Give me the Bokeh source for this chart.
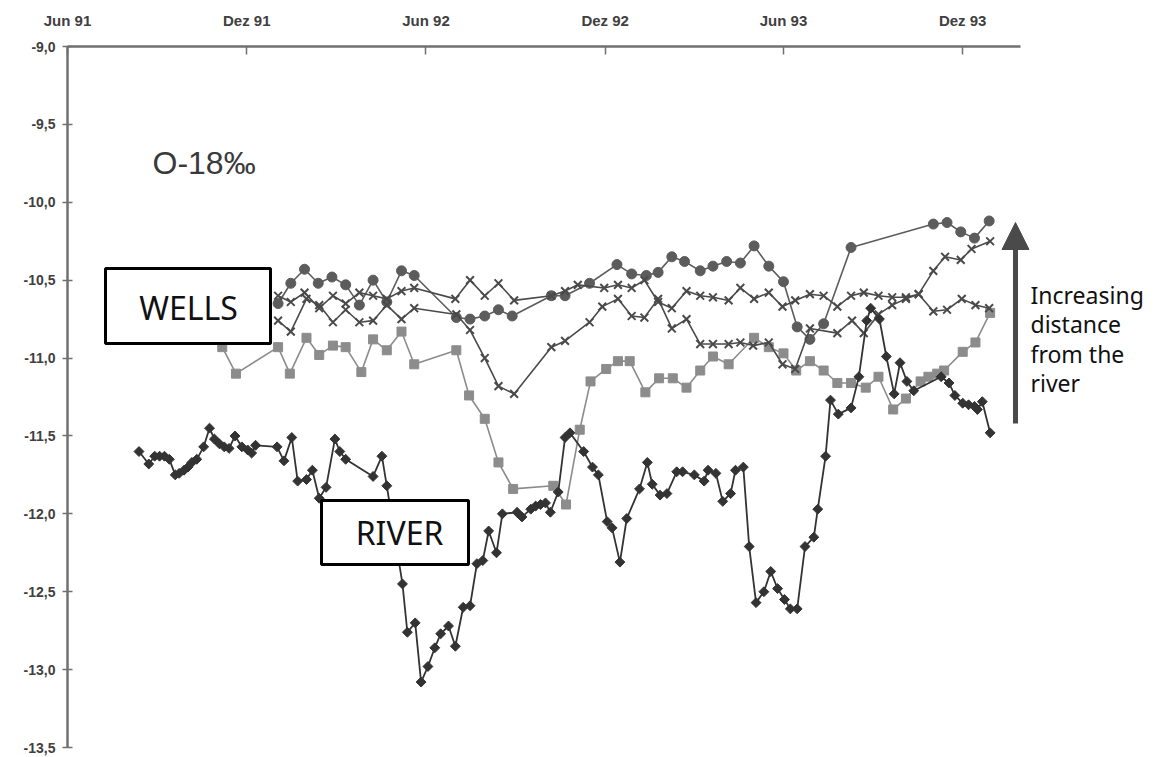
import math
import pandas as pd
from bokeh.plotting import figure
from bokeh.models import (Range1d, FixedTicker, CustomJSTickFormatter, DatetimeAxis,
                          LinearAxis, BoxAnnotation, Label, Arrow, NormalHead,
                          ColumnDataSource)
from bokeh.embed import file_html
from bokeh.resources import INLINE

# ---------------- data ----------------
TICK_DATES = ["1991-06-01", "1991-12-01", "1992-06-01", "1992-12-01", "1993-06-01", "1993-12-01"]
TICK_LABELS = ["Jun 91", "Dez 91", "Jun 92", "Dez 92", "Jun 93", "Dez 93"]
Y_TICKS = [-9.0, -9.5, -10.0, -10.5, -11.0, -11.5, -12.0, -12.5, -13.0, -13.5]

RIVER_DATES = [
    "1991-08-13", "1991-08-23", "1991-08-29", "1991-09-03", "1991-09-08", "1991-09-13",
    "1991-09-19", "1991-09-23", "1991-09-28", "1991-10-02", "1991-10-06", "1991-10-11",
    "1991-10-18", "1991-10-24", "1991-10-29", "1991-11-03", "1991-11-08", "1991-11-13",
    "1991-11-19", "1991-11-26", "1991-12-02", "1991-12-06", "1991-12-10", "1992-01-01",
    "1992-01-08", "1992-01-16", "1992-01-22", "1992-01-31", "1992-02-06", "1992-02-13",
    "1992-02-20", "1992-02-29", "1992-03-05", "1992-03-11", "1992-04-08", "1992-04-17",
    "1992-04-22", "1992-05-08", "1992-05-13", "1992-05-21", "1992-05-27", "1992-06-03",
    "1992-06-10", "1992-06-16", "1992-06-24", "1992-07-01", "1992-07-09", "1992-07-16",
    "1992-07-23", "1992-07-29", "1992-08-04", "1992-08-12", "1992-08-18", "1992-09-02",
    "1992-09-07", "1992-09-16", "1992-09-21", "1992-09-26", "1992-10-01", "1992-10-06",
    "1992-10-14", "1992-10-21", "1992-10-26", "1992-11-09", "1992-11-18", "1992-11-24",
    "1992-12-03", "1992-12-08", "1992-12-16", "1992-12-23", "1993-01-05", "1993-01-13",
    "1993-01-18", "1993-01-26", "1993-02-02", "1993-02-12", "1993-02-18", "1993-03-02",
    "1993-03-12", "1993-03-16", "1993-03-24", "1993-03-31", "1993-04-08", "1993-04-13",
    "1993-04-21", "1993-04-27", "1993-05-04", "1993-05-12", "1993-05-19", "1993-05-26",
    "1993-06-02", "1993-06-08", "1993-06-15", "1993-06-23", "1993-07-02", "1993-07-06",
    "1993-07-14", "1993-07-19", "1993-07-27", "1993-08-09", "1993-08-17", "1993-08-25",
    "1993-08-29", "1993-09-07", "1993-09-14", "1993-09-22", "1993-09-28", "1993-10-05",
    "1993-10-12", "1993-11-09", "1993-11-17", "1993-11-23", "1993-12-01", "1993-12-07",
    "1993-12-13", "1993-12-16", "1993-12-21", "1993-12-29"]
RIVER_VALUES = [
    -11.60, -11.68, -11.63, -11.63, -11.63, -11.65,
    -11.75, -11.74, -11.72, -11.70, -11.67, -11.65,
    -11.57, -11.45, -11.52, -11.55, -11.57, -11.58,
    -11.50, -11.57, -11.59, -11.61, -11.56, -11.57,
    -11.66, -11.51, -11.79, -11.78, -11.72, -11.90,
    -11.83, -11.52, -11.60, -11.65, -11.76, -11.63,
    -11.82, -12.45, -12.76, -12.70, -13.08, -12.98,
    -12.86, -12.77, -12.72, -12.85, -12.60, -12.59,
    -12.32, -12.30, -12.11, -12.25, -12.00, -11.99,
    -12.02, -11.97, -11.95, -11.94, -11.93, -11.99,
    -11.86, -11.51, -11.48, -11.60, -11.70, -11.75,
    -12.05, -12.09, -12.31, -12.03, -11.84, -11.67,
    -11.81, -11.88, -11.87, -11.73, -11.73, -11.75,
    -11.79, -11.72, -11.74, -11.92, -11.87, -11.72,
    -11.70, -12.21, -12.57, -12.50, -12.37, -12.48,
    -12.55, -12.61, -12.61, -12.21, -12.15, -11.97,
    -11.63, -11.27, -11.36, -11.32, -11.12, -10.76,
    -10.68, -10.75, -10.99, -11.23, -11.03, -11.15,
    -11.21, -11.12, -11.16, -11.24, -11.29, -11.30,
    -11.31, -11.33, -11.28, -11.48]

SQUARE_DATES = [
    "1991-11-06", "1991-11-20", "1992-01-02", "1992-01-14", "1992-01-31", "1992-02-13",
    "1992-02-27", "1992-03-11", "1992-03-27", "1992-04-08", "1992-04-22", "1992-05-07",
    "1992-05-20", "1992-07-02", "1992-07-15", "1992-07-31", "1992-08-14", "1992-08-29",
    "1992-10-09", "1992-10-22", "1992-11-05", "1992-11-16", "1992-12-02", "1992-12-14",
    "1992-12-26", "1993-01-11", "1993-01-25", "1993-02-08", "1993-02-22", "1993-03-08",
    "1993-03-21", "1993-04-06", "1993-05-02", "1993-05-17", "1993-06-01", "1993-06-14",
    "1993-06-28", "1993-07-12", "1993-07-26", "1993-08-09", "1993-08-24", "1993-09-06",
    "1993-09-21", "1993-10-04", "1993-10-19", "1993-10-27", "1993-11-05", "1993-11-12",
    "1993-12-01", "1993-12-14", "1993-12-29"]
SQUARE_VALUES = [
    -10.93, -11.10, -10.93, -11.10, -10.87, -10.98,
    -10.92, -10.93, -11.09, -10.88, -10.95, -10.83,
    -11.04, -10.95, -11.24, -11.39, -11.67, -11.84,
    -11.82, -11.94, -11.46, -11.15, -11.07, -11.02,
    -11.02, -11.22, -11.13, -11.13, -11.19, -11.08,
    -10.99, -11.04, -10.87, -10.93, -10.97, -11.08,
    -11.02, -11.08, -11.16, -11.16, -11.19, -11.12,
    -11.33, -11.26, -11.15, -11.12, -11.10, -11.08,
    -10.96, -10.90, -10.71]

CIRCLE_DATES = [
    "1992-01-02", "1992-01-15", "1992-01-29", "1992-02-12", "1992-02-26", "1992-03-11",
    "1992-03-25", "1992-04-08", "1992-04-22", "1992-05-07", "1992-05-20", "1992-07-02",
    "1992-07-16", "1992-07-31", "1992-08-14", "1992-08-28", "1992-10-07", "1992-10-21",
    "1992-11-15", "1992-12-13", "1992-12-28", "1993-01-12", "1993-01-24", "1993-02-07",
    "1993-02-20", "1993-03-08", "1993-03-21", "1993-04-04", "1993-04-18", "1993-05-02",
    "1993-05-17", "1993-06-01", "1993-06-15", "1993-06-28", "1993-07-12", "1993-08-09",
    "1993-11-01", "1993-11-15", "1993-11-29", "1993-12-13", "1993-12-28"]
CIRCLE_VALUES = [
    -10.65, -10.52, -10.43, -10.52, -10.48, -10.53,
    -10.66, -10.50, -10.64, -10.44, -10.47, -10.74,
    -10.75, -10.73, -10.69, -10.73, -10.60, -10.60,
    -10.52, -10.40, -10.46, -10.47, -10.45, -10.35,
    -10.38, -10.44, -10.41, -10.38, -10.39, -10.28,
    -10.41, -10.51, -10.80, -10.88, -10.78, -10.29,
    -10.14, -10.13, -10.19, -10.23, -10.12]

CROSS_A_DATES = [
    "1992-01-02", "1992-01-15", "1992-01-31", "1992-02-13", "1992-02-27", "1992-03-11",
    "1992-03-25", "1992-04-08", "1992-04-22", "1992-05-07", "1992-05-20", "1992-07-02",
    "1992-07-16", "1992-07-31", "1992-08-14", "1992-08-30", "1992-10-07", "1992-10-21",
    "1992-11-15", "1992-11-28", "1992-12-14", "1992-12-28", "1993-01-10", "1993-01-24",
    "1993-02-07", "1993-02-22", "1993-03-08", "1993-03-21", "1993-04-06", "1993-04-18",
    "1993-05-01", "1993-05-17", "1993-05-31", "1993-06-13", "1993-06-28", "1993-07-26",
    "1993-08-10", "1993-08-22", "1993-09-06", "1993-09-20", "1993-10-04", "1993-10-17",
    "1993-11-01", "1993-11-13", "1993-11-29", "1993-12-10", "1993-12-29"]
CROSS_A_VALUES = [
    -10.76, -10.83, -10.62, -10.66, -10.77, -10.69,
    -10.77, -10.76, -10.66, -10.75, -10.68, -10.72,
    -10.82, -11.00, -11.18, -11.23, -10.93, -10.89,
    -10.77, -10.67, -10.62, -10.73, -10.74, -10.62,
    -10.81, -10.75, -10.91, -10.91, -10.91, -10.90,
    -10.92, -10.90, -11.04, -11.07, -10.81, -10.84,
    -10.76, -10.84, -10.72, -10.66, -10.62, -10.59,
    -10.44, -10.35, -10.37, -10.30, -10.25]

CROSS_B_DATES = [
    "1992-01-02", "1992-01-15", "1992-01-29", "1992-02-13", "1992-02-27", "1992-03-11",
    "1992-03-25", "1992-04-08", "1992-04-22", "1992-05-07", "1992-05-20", "1992-07-01",
    "1992-07-16", "1992-07-31", "1992-08-14", "1992-08-30", "1992-10-07", "1992-10-21",
    "1992-11-03", "1992-11-30", "1992-12-14", "1992-12-28", "1993-01-10", "1993-01-24",
    "1993-02-07", "1993-02-22", "1993-03-08", "1993-03-21", "1993-04-06", "1993-04-18",
    "1993-05-02", "1993-05-17", "1993-05-31", "1993-06-13", "1993-06-28", "1993-07-12",
    "1993-07-26", "1993-08-09", "1993-08-22", "1993-09-06", "1993-09-20", "1993-10-04",
    "1993-10-17", "1993-11-01", "1993-11-15", "1993-11-30", "1993-12-14", "1993-12-28"]
CROSS_B_VALUES = [
    -10.60, -10.64, -10.58, -10.68, -10.60, -10.65,
    -10.58, -10.60, -10.62, -10.57, -10.55, -10.62,
    -10.50, -10.60, -10.52, -10.63, -10.60, -10.57,
    -10.53, -10.55, -10.53, -10.55, -10.50, -10.64,
    -10.68, -10.57, -10.60, -10.61, -10.63, -10.55,
    -10.62, -10.58, -10.67, -10.63, -10.59, -10.60,
    -10.67, -10.60, -10.58, -10.60, -10.61, -10.61,
    -10.59, -10.70, -10.69, -10.62, -10.66, -10.68]

# ---------------- layout ----------------
X_START = "1991-06-01"
AXIS_END = "1994-01-29"      # where the top axis line stops


def ms(s):
    return pd.Timestamp(s).value / 1e6


W, H = 1167, 757
BL, BT, BR, BB = 67, 46, 0, 10
FL, FT = BL, BT                  # frame edges on the page
FR, FB = W - BR, H - BB
AXIS_PX_END = 1020
START_MS, AXIS_END_MS = ms(X_START), ms(AXIS_END)
MS_PER_PX = (AXIS_END_MS - START_MS) / (AXIS_PX_END - FL)
END_MS = START_MS + (FR - FL) * MS_PER_PX


def px_x(px):
    return START_MS + (px - FL) * MS_PER_PX


def px_y(py):
    return -9.0 - (py - FT) * 4.5 / (FB - FT)


p = figure(width=W, height=H, output_backend="svg", toolbar_location=None,
           x_axis_type=None, y_axis_type=None,
           x_range=Range1d(START_MS, END_MS), y_range=Range1d(-13.5, -9.0),
           min_border_left=BL, min_border_top=BT, min_border_right=BR,
           min_border_bottom=BB)
p.outline_line_color = None
p.xgrid.visible = False
p.ygrid.visible = False
p.background_fill_color = "white"
p.border_fill_color = "white"

AX_COLOR = "#707070"
LBL_COLOR = "#404040"

tick_ms = [ms(d) for d in TICK_DATES]
xaxis = DatetimeAxis(
    ticker=FixedTicker(ticks=tick_ms),
    formatter=CustomJSTickFormatter(args=dict(t=tick_ms, l=TICK_LABELS), code="""
        let best = 0, bd = Infinity;
        for (let i = 0; i < t.length; i++) {
            const d = Math.abs(t[i] - tick);
            if (d < bd) { bd = d; best = i; }
        }
        return l[best];
    """))
xaxis.bounds = (START_MS, AXIS_END_MS)
xaxis.axis_line_color = AX_COLOR
xaxis.axis_line_width = 2.5
xaxis.major_tick_line_color = AX_COLOR
xaxis.major_tick_line_width = 1.5
xaxis.major_tick_in = 8
xaxis.major_tick_out = 0
xaxis.minor_tick_line_color = None
xaxis.major_label_standoff = 18
xaxis.major_label_text_font = "Liberation Sans"
xaxis.major_label_text_font_style = "bold"
xaxis.major_label_text_font_size = "15px"
xaxis.major_label_text_color = LBL_COLOR
p.add_layout(xaxis, "above")

yaxis = LinearAxis(
    ticker=FixedTicker(ticks=Y_TICKS),
    formatter=CustomJSTickFormatter(code="return tick.toFixed(1).replace('.', ',');"))
yaxis.axis_line_color = AX_COLOR
yaxis.axis_line_width = 2.5
yaxis.major_tick_line_color = AX_COLOR
yaxis.major_tick_line_width = 1.5
yaxis.major_tick_in = 5
yaxis.major_tick_out = 5
yaxis.minor_tick_line_color = None
yaxis.major_label_standoff = 7
yaxis.major_label_text_font = "Liberation Sans"
yaxis.major_label_text_font_style = "bold"
yaxis.major_label_text_font_size = "14px"
yaxis.major_label_text_color = LBL_COLOR
p.add_layout(yaxis, "left")


def series(dates, values, marker, color, size, line_width=1.6, mlw=1.0,
           fill=True, angle=0.0):
    src = ColumnDataSource(dict(x=pd.to_datetime(dates), y=values))
    p.line("x", "y", source=src, line_color=color, line_width=line_width)
    p.scatter("x", "y", source=src, marker=marker, size=size, angle=angle,
              fill_color=color if fill else None, line_color=color, line_width=mlw)


series(SQUARE_DATES, SQUARE_VALUES, "square", "#8c8c8c", 9)
series(CIRCLE_DATES, CIRCLE_VALUES, "circle", "#5c5c5c", 10)
series(CROSS_B_DATES, CROSS_B_VALUES, "x", "#4a4a4a", 11, mlw=2, fill=False)
series(CROSS_A_DATES, CROSS_A_VALUES, "x", "#4a4a4a", 11, mlw=2, fill=False)
series(RIVER_DATES, RIVER_VALUES, "square", "#333333", 7, line_width=1.8,
       angle=math.pi / 4)

# ---------------- annotations ----------------
TXT_FONT = "Noto Sans"
for (l, r, t, b, text, cx, cy) in [(105, 270, 268, 343, "WELLS", 188, 307),
                                   (321, 468, 500, 564, "RIVER", 399, 532)]:
    p.add_layout(BoxAnnotation(left=px_x(l), right=px_x(r), top=px_y(t), bottom=px_y(b),
                               fill_color="white", fill_alpha=1.0,
                               line_color="black", line_width=3, line_alpha=1.0))
    p.add_layout(Label(x=px_x(cx), y=px_y(cy), text=text, text_align="center",
                       text_baseline="middle", text_font=TXT_FONT,
                       text_font_size="32px", text_color="#111111"))

p.add_layout(Label(x=px_x(152), y=px_y(162), text="O-18‰", text_align="left",
                   text_baseline="middle", text_font="Liberation Sans",
                   text_font_size="32px", text_color="#3a3a3a"))

ARROW_C = "#4a4a4a"
p.add_layout(Arrow(end=NormalHead(size=27, fill_color=ARROW_C, line_color=ARROW_C),
                   x_start=px_x(1015), y_start=px_y(423),
                   x_end=px_x(1015), y_end=px_y(222),
                   line_color=ARROW_C, line_width=5))

for i, line in enumerate(["Increasing", "distance", "from the", "river"]):
    p.add_layout(Label(x=px_x(1030), y=px_y(294 + 29.5 * i), text=line,
                       text_align="left", text_baseline="middle", text_font=TXT_FONT,
                       text_font_size="23px", text_color="#111111"))

open("out.html", "w").write(file_html(p, INLINE))
